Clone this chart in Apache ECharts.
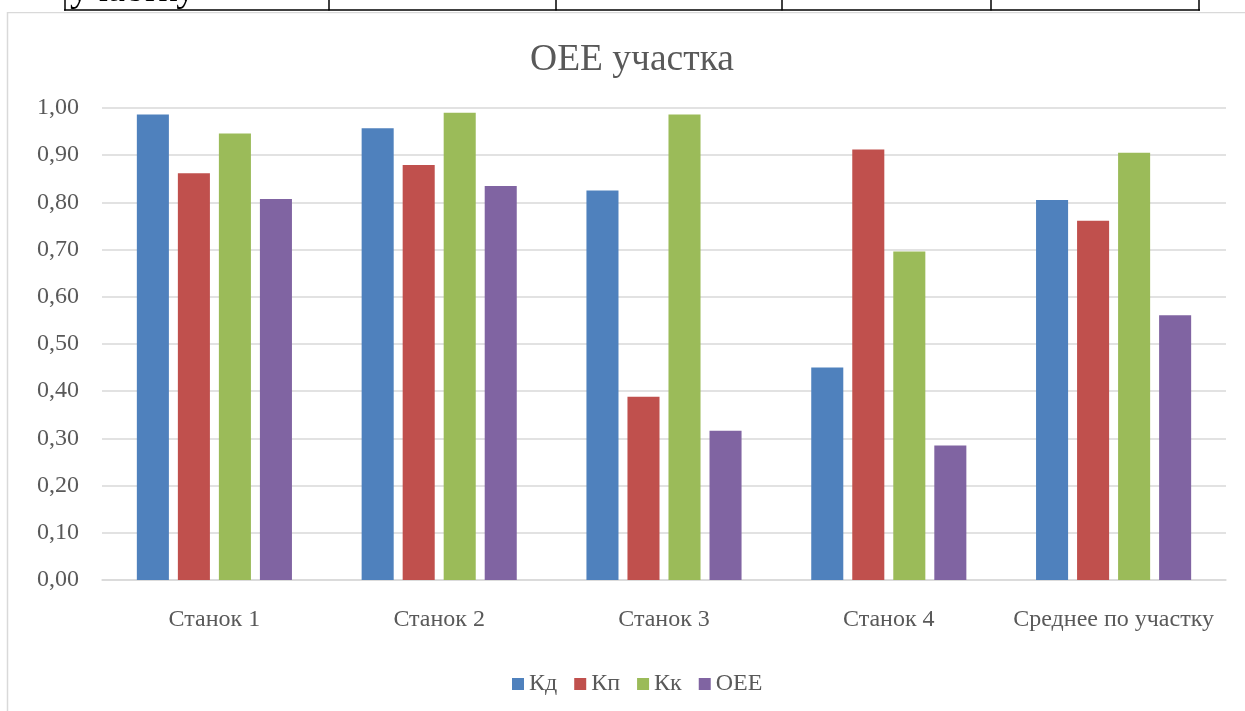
<!DOCTYPE html>
<html>
<head>
<meta charset="utf-8">
<style>
html,body{margin:0;padding:0;background:#fff;}
#chart{width:1245px;height:711px;}
</style>
<script src="https://cdn.jsdelivr.net/npm/echarts@6/dist/echarts.min.js"></script>
</head>
<body>
<div id="chart"></div>
<script>
const categories = ['Станок 1', 'Станок 2', 'Станок 3', 'Станок 4', 'Среднее по участку'];
const seriesNames = ['Кд', 'Кп', 'Кк', 'OEE'];
const kd  = [0.986, 0.957, 0.825, 0.450, 0.805];
const kp  = [0.862, 0.879, 0.388, 0.912, 0.761];
const kk  = [0.946, 0.990, 0.986, 0.696, 0.905];
const oee = [0.807, 0.835, 0.316, 0.285, 0.561];
const colors = ['#4F81BD', '#C0504D', '#9BBB59', '#8064A2'];
const tableColumnsX = [65, 329, 556, 782, 991, 1199];

const FONT = '"Liberation Serif", "Times New Roman", serif';
const TXT = '#595959';

const chart = echarts.init(document.getElementById('chart'));

const graphics = [
  {type: 'rect', shape: {x: 7.5, y: 12.5, width: 1260, height: 720}, style: {fill: 'none', stroke: '#D9D9D9', lineWidth: 1.5}, z: -1},
  {type: 'text', x: 70, y: 10, style: {text: 'участку', fontFamily: FONT, fontSize: 38, fill: '#000', verticalAlign: 'bottom'}},
  {type: 'rect', shape: {x: 0, y: 10, width: 1245, height: 2}, style: {fill: '#fff'}, z: 5},
  {type: 'line', shape: {x1: 64, y1: 10, x2: 1200, y2: 10}, style: {stroke: '#000', lineWidth: 1.5}, z: 6}
];
tableColumnsX.forEach(x => graphics.push({type: 'line', shape: {x1: x, y1: 0, x2: x, y2: 10.5}, style: {stroke: '#000', lineWidth: 1.5}, z: 6}));

const dataSets = [kd, kp, kk, oee];

chart.setOption({
  animation: false,
  backgroundColor: '#fff',
  color: colors,
  title: {
    text: 'OEE участка',
    left: 627,
    textAlign: 'center',
    top: 36,
    textStyle: {fontFamily: FONT, fontSize: 37.5, fontWeight: 'normal', color: TXT}
  },
  legend: {
    bottom: 10,
    left: 507,
    itemWidth: 12,
    itemHeight: 12,
    itemGap: 17,
    icon: 'rect',
    textStyle: {fontFamily: FONT, fontSize: 24, color: TXT},
    data: seriesNames
  },
  grid: {left: 102, right: 19, top: 108, bottom: 131, containLabel: false},
  xAxis: {
    type: 'category',
    data: categories,
    axisLine: {lineStyle: {color: '#D9D9D9', width: 1.5}},
    axisTick: {show: false},
    axisLabel: {fontFamily: FONT, fontSize: 24, color: TXT, margin: 28, interval: 0}
  },
  yAxis: {
    type: 'value',
    min: 0, max: 1, interval: 0.1,
    axisLine: {show: false},
    axisTick: {show: false},
    splitLine: {lineStyle: {color: '#D9D9D9', width: 1.5}},
    axisLabel: {
      fontFamily: FONT, fontSize: 24, color: TXT, margin: 23,
      formatter: v => v.toFixed(2).replace('.', ',')
    }
  },
  series: seriesNames.map((n, i) => ({
    name: n,
    type: 'bar',
    data: dataSets[i],
    barGap: '28%',
    barCategoryGap: '31%',
    itemStyle: {color: colors[i]}
  })),
  graphic: graphics
});
</script>
</body>
</html>
